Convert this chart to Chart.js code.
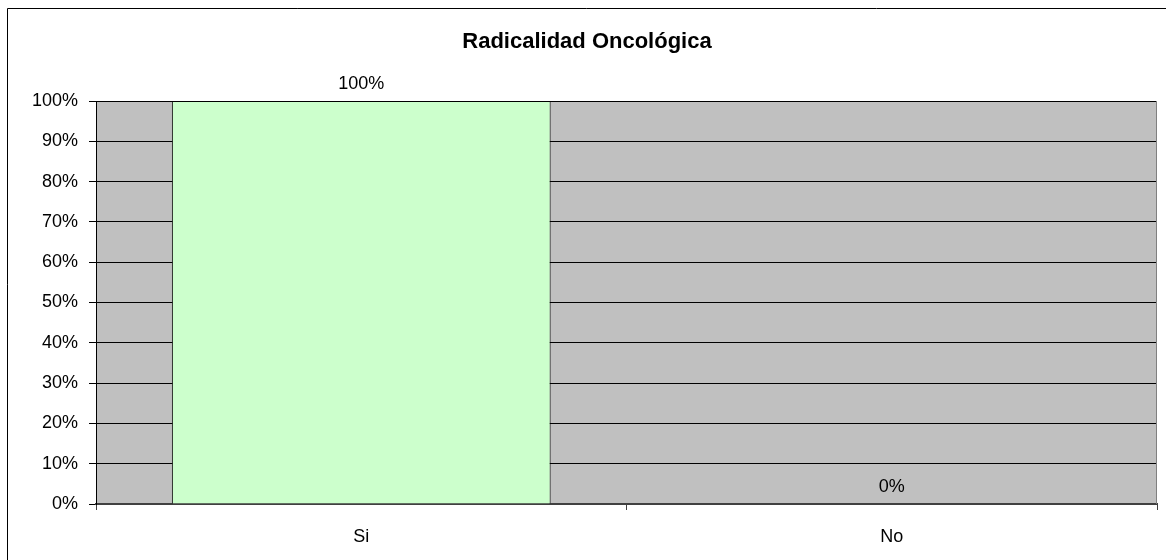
<!DOCTYPE html>
<html>
<head>
<meta charset="utf-8">
<script src="https://cdn.jsdelivr.net/npm/chart.js@4/dist/chart.umd.min.js"></script>
<style>
    body { margin: 0; background: #fff; }
    #wrap { width: 1166px; height: 560px; }
</style>
</head>
<body>
<div id="wrap"><canvas id="radicalidadChart" width="1166" height="560"></canvas></div>
<script>
const chartTitle = "Radicalidad Oncológica";
const categories = ["Si", "No"];
const values = [1.0, 0.0];
const valueLabels = ["100%", "0%"];
const yTicks = [0, 0.1, 0.2, 0.3, 0.4, 0.5, 0.6, 0.7, 0.8, 0.9, 1.0];

const FONT = "'Liberation Sans', Arial, sans-serif";

// gray plot area, outer frame, title and value labels
const excelLook = {
    id: "excelLook",
    beforeDraw(chart) {
        const { ctx, chartArea: a } = chart;
        ctx.save();
        ctx.fillStyle = "#C0C0C0";
        ctx.fillRect(a.left, a.top, a.right - a.left, a.bottom - a.top);
        ctx.strokeStyle = "#000";
        ctx.lineWidth = 1;
        ctx.beginPath();
        ctx.moveTo(7.5, 560);
        ctx.lineTo(7.5, 8.5);
        ctx.lineTo(1166, 8.5);
        ctx.stroke();
        ctx.restore();
    },
    afterDraw(chart) {
        const { ctx, chartArea: a } = chart;
        ctx.save();
        ctx.strokeStyle = "#808080";
        ctx.lineWidth = 1;
        ctx.beginPath();
        ctx.moveTo(a.right - 0.5, a.top);
        ctx.lineTo(a.right - 0.5, a.bottom);
        ctx.stroke();
        ctx.fillStyle = "#000";
        ctx.textAlign = "center";
        ctx.textBaseline = "middle";
        ctx.font = "bold 22px " + FONT;
        ctx.fillText(chartTitle, 587, 42);
        ctx.font = "18px " + FONT;
        chart.getDatasetMeta(0).data.forEach((bar, i) => {
            ctx.fillText(valueLabels[i], bar.x, bar.y - 17);
        });
        ctx.restore();
    }
};

new Chart(document.getElementById("radicalidadChart"), {
    type: "bar",
    data: {
        labels: categories,
        datasets: [{
            data: values,
            backgroundColor: "#CCFFCC",
            borderColor: "#000",
            borderWidth: 1,
            barPercentage: 0.714,
            categoryPercentage: 1
        }]
    },
    options: {
        responsive: false,
        animation: false,
        layout: { padding: { top: 101, left: 10, right: 9, bottom: 0 } },
        plugins: {
            legend: { display: false },
            title: { display: false },
            tooltip: { enabled: false }
        },
        scales: {
            x: {
                offset: true,
                grid: {
                    offset: true,
                    drawOnChartArea: false,
                    color: "#404040",
                    tickLength: 6,
                    lineWidth: 1
                },
                border: { color: "#404040", width: 2 },
                ticks: { color: "#000", font: { family: FONT, size: 18 }, padding: 16 },
                afterFit: s => { s.height = 56; }
            },
            y: {
                min: 0,
                max: 1,
                afterBuildTicks: s => { s.ticks = yTicks.map(v => ({ value: v })); },
                grid: { color: "#000", tickLength: 7, lineWidth: 1 },
                border: { color: "#000", width: 1 },
                ticks: {
                    color: "#000",
                    font: { family: FONT, size: 18 },
                    padding: 11,
                    callback: v => Math.round(v * 100) + "%"
                },
                afterFit: s => { s.width = 86; }
            }
        }
    },
    plugins: [excelLook]
});
</script>
</body>
</html>
